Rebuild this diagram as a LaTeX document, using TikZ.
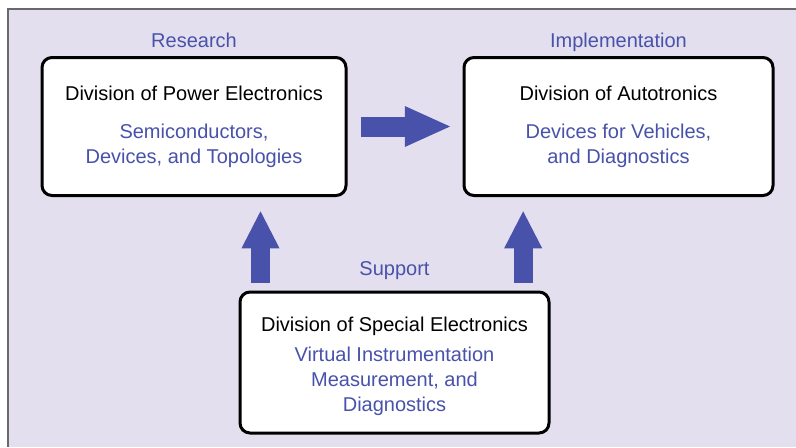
\documentclass[tikz,border=0pt]{standalone}
\usepackage{fontspec}
\setmainfont{Liberation Sans}
\usetikzlibrary{arrows.meta,positioning}
\definecolor{lilac}{RGB}{228,223,238}
\definecolor{divblue}{RGB}{72,82,170}
\definecolor{framegray}{RGB}{105,105,105}

\begin{document}
\begin{tikzpicture}[x=0.75pt, y=-0.75pt,
  division/.style={draw=black, line width=2.25pt, rounded corners=7.5pt, fill=white,
    align=center, inner sep=0pt, font=\fontsize{15}{18.75}\selectfont},
  tag/.style={text=divblue, inner sep=0pt, text depth=0pt, font=\fontsize{15}{18.75}\selectfont},
  bigarrow/.style={draw=divblue, line width=15pt, -{Triangle[length=35.25pt,width=27.75pt]}},
  uparrow/.style={bigarrow, line width=14.25pt, -{Triangle[length=28.5pt,width=26.25pt]}}]
\useasboundingbox (0,0) rectangle (796,447);
\fill[lilac] (8,9) rectangle (796,447);
\draw[framegray, line width=1.5pt] (8,447) -- (8,9) -- (796,9);

% the three divisions
\node[division, minimum width=228pt, minimum height=103.5pt] (power) at (194,126.5)
  {Division of Power Electronics\\[9.75pt]
   \textcolor{divblue}{Semiconductors,}\\ \textcolor{divblue}{Devices, and Topologies}};
\node[division, minimum width=231.75pt, minimum height=103.5pt] (auto) at (618.5,126.5)
  {Division of Autotronics\\[9.75pt]
   \textcolor{divblue}{Devices for Vehicles,}\\ \textcolor{divblue}{and Diagnostics}};
\node[division, minimum width=231.75pt, minimum height=105.75pt] (special) at (394.5,362.5)
  {\rule{0pt}{17pt}Division of Special Electronics\\[3.75pt]
   \textcolor{divblue}{Virtual Instrumentation}\\ \textcolor{divblue}{Measurement, and}\\
   \textcolor{divblue}{Diagnostics}};

\node[tag, above=6.5pt of power] {Research};
\node[tag, above=6.5pt of auto] {Implementation};
\node[tag, above=11pt of special] {Support};

% arrows
\draw[bigarrow, shorten <=10pt, shorten >=8pt] (power) -- (auto);
\coordinate (lfoot) at ([xshift=16.5pt]special.north west);
\coordinate (rfoot) at ([xshift=-20.5pt]special.north east);
\draw[uparrow, shorten <=5.6pt, shorten >=10pt] (lfoot) -- (lfoot |- power.south);
\draw[uparrow, shorten <=5.6pt, shorten >=10pt] (rfoot) -- (rfoot |- auto.south);
\end{tikzpicture}
\end{document}
